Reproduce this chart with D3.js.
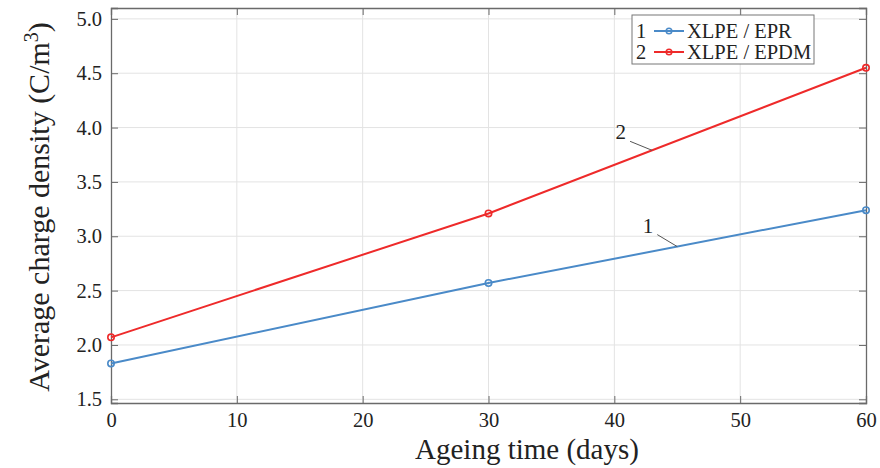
<!DOCTYPE html>
<html lang="en">
<head>
<meta charset="UTF-8">
<title>Average charge density vs ageing time</title>
<style>
  body { margin: 0; background: #fff; }
  svg text { font-family: "Liberation Serif", "Times New Roman", serif !important; fill: #222; }
  .grid line { stroke: #e3e3e3; stroke-width: 1; }
  .axis path, .axis line { stroke: #6a6a6a; }
</style>
</head>
<body>
<script src="https://cdn.jsdelivr.net/npm/d3@7"></script>
<script>

var days = [0, 30, 60];
var eprValues = [1.83, 2.57, 3.24];
var epdmValues = [2.07, 3.21, 4.55];
var xTicks = [0, 10, 20, 30, 40, 50, 60];
var yTicks = [1.5, 2.0, 2.5, 3.0, 3.5, 4.0, 4.5, 5.0];
var seriesNames = ["XLPE / EPR", "XLPE / EPDM"];
var seriesColors = ["#4a8ac8", "#ee2a2a"];

var W = 880, H = 468;
var margin = { top: 8, right: 14, bottom: 65, left: 111 };
var width = W - margin.left - margin.right,
    height = H - margin.top - margin.bottom;

var svg = d3.select("body").append("svg")
    .attr("width", W)
    .attr("height", H)
    .attr("font-family", "Liberation Serif, serif");

var g = svg.append("g")
    .attr("transform", "translate(" + margin.left + "," + margin.top + ")");

var x = d3.scaleLinear().domain([0, 60]).range([0, width]);
var y = d3.scaleLinear().domain([1.466, 5.1]).range([height, 0]);

// grid
g.append("g").attr("class", "grid")
  .selectAll("line").data(xTicks.slice(1, -1)).enter().append("line")
    .attr("x1", function(d) { return x(d); }).attr("x2", function(d) { return x(d); })
    .attr("y1", 0).attr("y2", height);
g.append("g").attr("class", "grid")
  .selectAll("line").data(yTicks).enter().append("line")
    .attr("y1", function(d) { return y(d); }).attr("y2", function(d) { return y(d); })
    .attr("x1", 0).attr("x2", width);

// axes (box, ticks inward)
var fmtY = d3.format(".1f");
g.append("g").attr("class", "axis")
    .attr("transform", "translate(0," + height + ")")
    .call(d3.axisBottom(x).tickValues(xTicks).tickSize(-7).tickPadding(9));
g.append("g").attr("class", "axis")
    .call(d3.axisLeft(y).tickValues(yTicks).tickFormat(fmtY).tickSize(-7).tickPadding(9));
g.append("g").attr("class", "axis")
    .call(d3.axisTop(x).tickValues(xTicks).tickSize(-7).tickFormat(""));
g.append("g").attr("class", "axis")
    .attr("transform", "translate(" + width + ",0)")
    .call(d3.axisRight(y).tickValues(yTicks).tickSize(-7).tickFormat(""));

svg.selectAll(".axis").attr("font-family", null).attr("font-size", null);
svg.selectAll(".axis text").style("font-size", "20.5px");
svg.selectAll(".axis path").attr("stroke", "#6a6a6a").attr("stroke-width", 1.3);

// lines
var data = [eprValues, epdmValues];
var line = d3.line()
    .x(function(d, i) { return x(days[i]); })
    .y(function(d) { return y(d); });

data.forEach(function(vals, k) {
  g.append("path")
    .datum(vals)
    .attr("fill", "none")
    .attr("stroke", seriesColors[k])
    .attr("stroke-width", 2)
    .attr("d", line);
  g.selectAll(".pt" + k).data(vals).enter().append("circle")
    .attr("cx", function(d, i) { return x(days[i]); })
    .attr("cy", function(d) { return y(d); })
    .attr("r", 3.2)
    .attr("fill", "none")
    .attr("stroke", seriesColors[k])
    .attr("stroke-width", 1.6);
});

// curve labels with leader lines
var labels = [
  { t: "1", at: 45, v: eprValues, dx: -28, dy: -18 },
  { t: "2", at: 43, v: epdmValues, dx: -30, dy: -15 }
];
labels.forEach(function(l) {
  var yv = l.v[1] + (l.v[2] - l.v[1]) * (l.at - 30) / 30;
  var px = x(l.at), py = y(yv);
  g.append("line")
    .attr("x1", px).attr("y1", py)
    .attr("x2", px + l.dx + 8).attr("y2", py + l.dy + 6)
    .attr("stroke", "#555").attr("stroke-width", 1);
  g.append("text")
    .attr("x", px + l.dx + 4).attr("y", py + l.dy + 4)
    .attr("text-anchor", "end")
    .style("font-size", "21px")
    .text(l.t);
});

// legend
var lg = g.append("g").attr("transform", "translate(" + (632 - margin.left) + "," + (15 - margin.top) + ")");
lg.append("rect")
    .attr("width", 182).attr("height", 49)
    .attr("fill", "#fff").attr("stroke", "#777").attr("stroke-width", 1);
seriesNames.forEach(function(name, k) {
  var ry = 16 + k * 21;
  lg.append("text").attr("x", 4).attr("y", ry + 7).style("font-size", "20.5px").text(k + 1);
  lg.append("line").attr("x1", 22).attr("x2", 52).attr("y1", ry).attr("y2", ry)
    .attr("stroke", seriesColors[k]).attr("stroke-width", 2);
  lg.append("circle").attr("cx", 37).attr("cy", ry).attr("r", 2.8)
    .attr("fill", "none").attr("stroke", seriesColors[k]).attr("stroke-width", 1.5);
  lg.append("text").attr("x", 55).attr("y", ry + 7).style("font-size", "20.5px").text(name);
});

// axis titles
svg.append("text")
    .attr("x", 527)
    .attr("y", 459)
    .attr("text-anchor", "middle")
    .style("font-size", "29px")
    .text("Ageing time (days)");

var yt = svg.append("text")
    .attr("transform", "translate(49," + 207 + ") rotate(-90)")
    .attr("text-anchor", "middle")
    .style("font-size", "30px");
yt.append("tspan").text("Average charge density (C/m");
yt.append("tspan").attr("dy", -11).style("font-size", "20px").text("3");
yt.append("tspan").attr("dy", 11).text(")");

</script>
</body>
</html>
